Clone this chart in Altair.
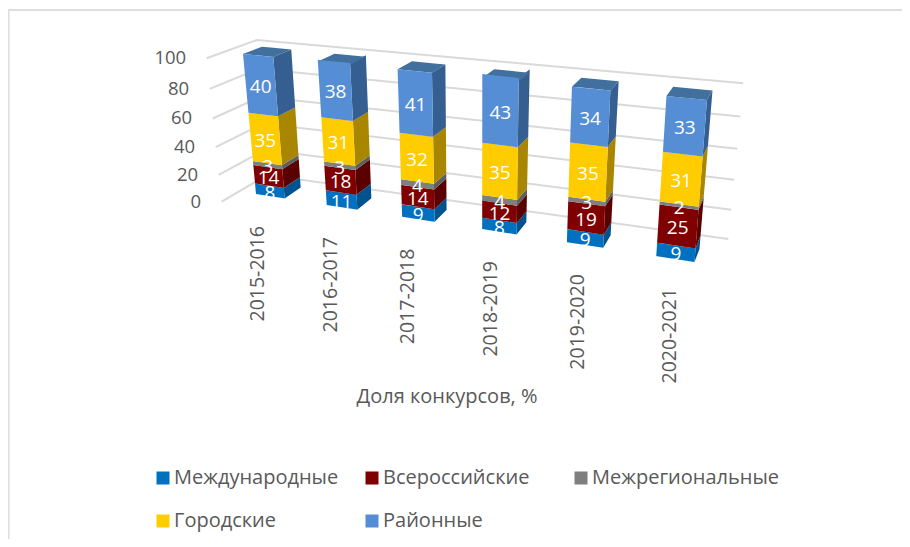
import altair as alt
import pandas as pd

categories = ["2015-2016", "2016-2017", "2017-2018", "2018-2019", "2019-2020", "2020-2021"]
series_names = ["Международные", "Всероссийские", "Межрегиональные", "Городские", "Районные"]
intl = [8, 11, 9, 8, 9, 9]
russia = [14, 18, 14, 12, 19, 25]
interreg = [3, 3, 4, 4, 3, 2]
city = [35, 31, 32, 35, 35, 31]
district = [40, 38, 41, 43, 34, 33]
front_colors = ["#0070C0", "#7F0000", "#7F7F7F", "#FFCC00", "#558ED5"]
side_colors = ["#00538F", "#5A0000", "#5E5E5E", "#A88600", "#365F91"]
top_color = "#41709F"
axis_ticks = [0, 20, 40, 60, 80, 100]
axis_title = "Доля конкурсов, %"
FONT = "Open Sans"
GREY = "#595959"

W, H = 894, 531
values = [intl, russia, interreg, city, district]
BAR = 0.413


def pers(p):
    return p / (1 + 0.085 * (1 - p))


def project(u, d, p):
    """Oblique view of the bar space: u = category position, d = depth 0..1, p = share 0..1."""
    xb = 256 + 68.4 * u + 2.33 * u * u
    f = pers(p)
    yb = 194 + 0.155 * (xb - 256)
    h = 140 + 0.05 * (xb - 256)
    x0 = xb + 0.058 * (xb - 480) * f
    y0 = yb - h * f
    dx = (16 - 0.027 * (xb - 285)) * (1 + 0.12 * f)
    dy = -(11 - 3.5 * f + 0.005 * (xb - 285))
    return x0 + d * dx, y0 + d * dy


def polygon_rows(pid, pts, **extra):
    xs = sorted({round(p[0], 3) for p in pts})
    rows = []
    n = len(pts)
    for x in xs:
        ys = []
        for k in range(n):
            (x1, y1), (x2, y2) = pts[k], pts[(k + 1) % n]
            a, b = min(x1, x2) - 0.002, max(x1, x2) + 0.002
            if a <= x <= b:
                if abs(x2 - x1) < 1e-6:
                    ys += [y1, y2]
                else:
                    ys.append(y1 + (y2 - y1) * (x - x1) / (x2 - x1))
        rows.append(dict(pid=pid, x=x, y=min(ys), y2=max(ys), **extra))
    return rows


front, shade, labels = [], [], []
for i, cat in enumerate(categories):
    lo = 0
    for s, name in enumerate(series_names):
        v = values[s][i]
        hi = lo + v
        pl, ph = lo / 100, hi / 100
        q = [project(i, 0, pl), project(i + BAR, 0, pl), project(i + BAR, 0, ph), project(i, 0, ph)]
        front += polygon_rows(f"f{i}-{s}", q, series=name)
        sd = [project(i + BAR, 0, pl), project(i + BAR, 1, pl), project(i + BAR, 1, ph), project(i + BAR, 0, ph)]
        shade += polygon_rows(f"s{i}-{s}", sd, color=side_colors[s])
        labels.append(dict(x=sum(c[0] for c in q) / 4, y=sum(c[1] for c in q) / 4 + 2, t=str(v)))
        lo = hi
    tp = [project(i, 0, 1), project(i + BAR, 0, 1), project(i + BAR, 1, 1), project(i, 1, 1)]
    shade += polygon_rows(f"t{i}", tp, color=top_color)

grid, ticks = [], []
for t in axis_ticks:
    p = t / 100
    f = pers(p)
    grid.append(dict(level=t, x=221.7 - 15 * p, y=201.7 - 143.4 * f))
    grid.append(dict(level=t, x=267 - 10.3 * p, y=175 - 135 * f))
    grid.append(dict(level=t, x=728.3 + 15 * p, y=239 - 155.7 * f))
    ticks.append(dict(x=221.7 - 15 * p - 20.5, y=201.7 - 143.4 * f, t=str(t)))

cat_rows = []
for i, cat in enumerate(categories):
    xb, yb = project(i, 0, 0)
    cat_rows.append(dict(x=xb + 1.7 + 0.03 * (xb - 256), y=yb + 32, t=cat))

xs = alt.Scale(domain=[8, 8 + W], range=[0, W])
ys = alt.Scale(domain=[8, 8 + H], range=[0, H])
X = alt.X("x:Q", scale=xs, axis=None)
Y = alt.Y("y:Q", scale=ys, axis=None, stack=None)
Y2 = alt.Y2("y2:Q")

frame = alt.Chart(pd.DataFrame([
    dict(x=8, x2=910, y=10, y2=10),
    dict(x=8.5, x2=8.5, y=10, y2=547),
])).mark_rule(color="#DEDEDE", strokeWidth=2).encode(x=X, x2="x2:Q", y=Y, y2=Y2)

grid_layer = alt.Chart(pd.DataFrame(grid)).mark_line(color="#D9D9D9", strokeWidth=2).encode(
    x=X, y=Y, detail="level:N")

shade_layer = alt.Chart(pd.DataFrame(shade)).mark_area(orient="vertical", opacity=1).encode(
    x=X, y=Y, y2=Y2, detail="pid:N", color=alt.Color("color:N", scale=None, legend=None))

front_layer = alt.Chart(pd.DataFrame(front)).mark_area(orient="vertical", opacity=1).encode(
    x=X, y=Y, y2=Y2, detail="pid:N",
    color=alt.Color("series:N", scale=alt.Scale(domain=series_names, range=front_colors),
                    sort=series_names,
                    legend=alt.Legend(title=None, orient="none", legendX=145, legendY=460,
                                      direction="horizontal",
                                      columns=3, gridAlign="all", columnPadding=0, rowPadding=23,
                                      symbolType="square", symbolSize=169, symbolStrokeWidth=0,
                                      labelFont=FONT, labelFontSize=20, labelColor=GREY,
                                      labelOffset=1, labelLimit=300, padding=0)))

value_layer = alt.Chart(pd.DataFrame(labels)).mark_text(
    color="white", font=FONT, fontSize=19, baseline="middle", align="center"
).encode(x=X, y=Y, text="t:N")

tick_layer = alt.Chart(pd.DataFrame(ticks)).mark_text(
    color=GREY, font=FONT, fontSize=18.5, baseline="middle", align="right"
).encode(x=X, y=Y, text="t:N")

cat_layer = alt.Chart(pd.DataFrame(cat_rows)).mark_text(
    color=GREY, font=FONT, fontSize=19.5, baseline="middle", align="right", angle=270
).encode(x=X, y=Y, text="t:N")

title_layer = alt.Chart(pd.DataFrame([dict(x=447, y=397, t=axis_title)])).mark_text(
    color=GREY, font=FONT, fontSize=20, baseline="middle", align="center"
).encode(x=X, y=Y, text="t:N")

chart = alt.layer(
    frame, grid_layer, shade_layer, front_layer, value_layer, tick_layer, cat_layer, title_layer
).resolve_scale(color="independent").properties(
    width=W, height=H, padding=0, autosize=alt.AutoSizeParams(type="none")
).configure_view(stroke=None)

chart.save("out.html", embed_options={"renderer": "svg", "actions": False})
